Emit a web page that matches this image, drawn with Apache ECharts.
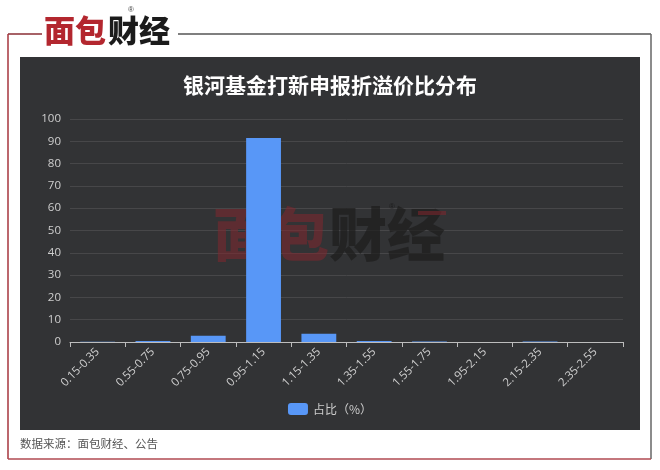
<!DOCTYPE html>
<html><head><meta charset="utf-8">
<script src="https://cdn.jsdelivr.net/npm/echarts@6/dist/echarts.min.js"></script>
<style>html,body{margin:0;padding:0;background:#fff}#c{width:660px;height:470px}</style>
</head><body><div id="c"></div>
<script>
const categories = ['0.15-0.35','0.55-0.75','0.75-0.95','0.95-1.15','1.15-1.35','1.35-1.55','1.55-1.75','1.95-2.15','2.15-2.35','2.35-2.55'];
const shareValues = [0.1, 0.5, 2.8, 91.5, 3.7, 0.5, 0.2, 0.05, 0.2, 0.05];
const seriesName = '占比（%）';
const titleText = '银河基金打新申报折溢价比分布';
const sourceText = '数据来源：面包财经、公告';

const chart = echarts.init(document.getElementById('c'), null, {renderer:'canvas'});
const cjk = '"Noto Sans CJK SC","Noto Sans",sans-serif';
chart.setOption({
  backgroundColor:'#ffffff',
  animation:false,
  title:{text:titleText,left:'center',top:70,textStyle:{color:'#ffffff',fontSize:21,fontWeight:'bold',fontFamily:cjk}},
  legend:{data:[seriesName],bottom:50,left:'center',itemWidth:20,itemHeight:12,icon:'roundRect',
    textStyle:{color:'#cccccc',fontSize:12,fontFamily:cjk}},
  grid:{left:70,right:37,top:119,bottom:128},
  xAxis:{type:'category',data:categories,
    axisLine:{lineStyle:{color:'#bdbdbd'}},
    axisTick:{show:true,lineStyle:{color:'#bdbdbd'}},
    axisLabel:{rotate:45,color:'#cfcfcf',fontSize:11.5,margin:8,interval:0,fontFamily:'"Open Sans",sans-serif'}},
  yAxis:{type:'value',min:0,max:100,interval:10,
    axisLine:{show:false},axisTick:{show:false},
    axisLabel:{color:'#cfcfcf',fontSize:11.5,margin:9,fontFamily:'"Open Sans",sans-serif'},
    splitLine:{lineStyle:{color:'#474749',width:1}}},
  series:[{name:seriesName,type:'bar',data:shareValues,barWidth:'63%',z:3,
    itemStyle:{color:'#5897f7'}}],
  graphic:[
    {type:'rect',z:-20,shape:{x:20,y:57,width:620,height:373},style:{fill:'#323335'}},
    {type:'line',z:-20,shape:{x1:8,y1:34,x2:42,y2:34},style:{stroke:'#8a2e34',lineWidth:1.5}},
    {type:'line',z:-20,shape:{x1:178,y1:34,x2:651,y2:34},style:{stroke:'#555555',lineWidth:1.5}},
    {type:'line',z:-20,shape:{x1:8,y1:34,x2:8,y2:459},style:{stroke:'#a6343c',lineWidth:1.5}},
    {type:'line',z:-20,shape:{x1:651,y1:34,x2:651,y2:459},style:{stroke:'#666666',lineWidth:1.5}},
    {type:'line',z:-20,shape:{x1:8,y1:459,x2:651,y2:459},style:{stroke:'#b04a52',lineWidth:1.5}},
    {type:'text',z:-10,left:44,top:15,style:{text:'面包',fill:'#b3272f',font:'900 31px '+cjk}},
    {type:'text',z:-10,left:108,top:15,style:{text:'财经',fill:'#1b1b1b',font:'900 31px '+cjk}},
    {type:'text',z:-10,left:128,top:6,style:{text:'®',fill:'#444',font:'8px sans-serif'}},
    {type:'text',z:1,left:213,top:205,style:{text:'面包',fill:'rgba(130,38,45,0.55)',font:'900 58px '+cjk}},
    {type:'text',z:1,left:329,top:205,style:{text:'财经',fill:'rgba(28,28,28,0.7)',font:'900 58px '+cjk}},
    {type:'rect',z:1,shape:{x:418,y:211,width:28,height:4},style:{fill:'rgba(130,38,45,0.55)'}},
    {type:'text',z:1,left:389,top:203,style:{text:'®',fill:'rgba(20,20,20,0.7)',font:'8px sans-serif'}},
    {type:'text',z:-10,left:20,top:438,style:{text:sourceText,fill:'#555555',font:'11.5px '+cjk}}
  ]
});
</script></body></html>
